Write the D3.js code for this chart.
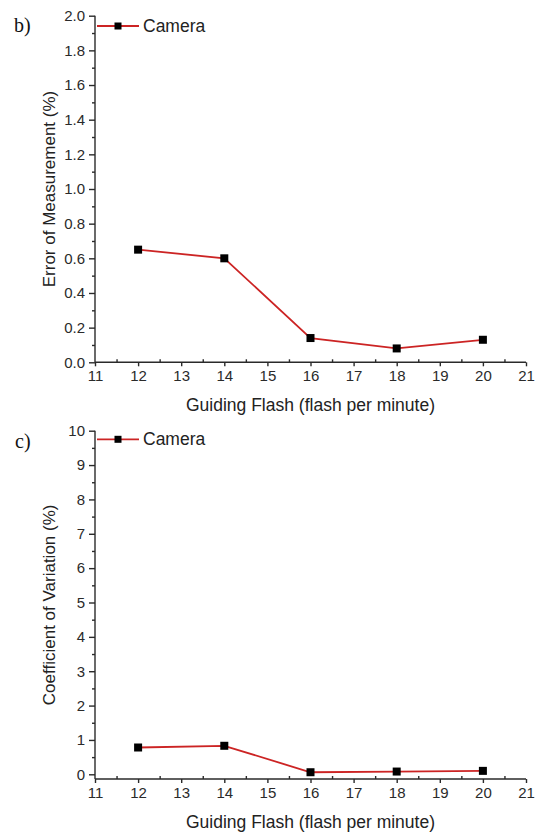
<!DOCTYPE html>
<html>
<head>
<meta charset="utf-8">
<script src="https://cdn.jsdelivr.net/npm/d3@7"></script>
<style>
  html, body { margin: 0; padding: 0; background: #fff; }
  svg { display: block; }
  .axis path, .axis line { stroke: #2a2a2a; stroke-width: 1.4; }
  .axis text { font-family: "Liberation Sans", Arial, sans-serif; font-size: 15px; fill: #2a2a2a; }
  .title { font-family: "Liberation Sans", Arial, sans-serif; fill: #222; }
  .panel { font-family: "Liberation Serif", "Times New Roman", serif; font-size: 20px; fill: #111; }
</style>
</head>
<body>
<script>
// ---- data ----
const flashRates = [12, 14, 16, 18, 20];
const errorOfMeasurement = [0.65, 0.60, 0.14, 0.08, 0.13];
const coefficientOfVariation = [0.78, 0.83, 0.06, 0.08, 0.10];
const xTicks = [11, 12, 13, 14, 15, 16, 17, 18, 19, 20, 21];
const errorTicks = [0.0, 0.2, 0.4, 0.6, 0.8, 1.0, 1.2, 1.4, 1.6, 1.8, 2.0];
const cvTicks = [0, 1, 2, 3, 4, 5, 6, 7, 8, 9, 10];
const seriesName = "Camera";
const xTitle = "Guiding Flash (flash per minute)";

const W = 539, H = 836;
const svg = d3.select("body").append("svg").attr("width", W).attr("height", H);
const lineColor = "#cc2424";

function panel(opts) {
  const g = svg.append("g");
  const x = d3.scaleLinear().domain([11, 21]).range([95, 526]);
  const y = d3.scaleLinear().domain(opts.yDomain).range([opts.yZeroPx, opts.yTopPx]);
  const axisY = opts.axisLinePx;

  // x minor ticks (inside)
  const xMinor = d3.range(11.5, 21, 1);
  g.append("g").attr("class", "axis").attr("transform", `translate(0,${axisY})`)
    .call(d3.axisBottom(x).tickValues(xMinor).tickSize(-3).tickFormat(""))
    .call(s => s.select(".domain").remove());
  // x major
  g.append("g").attr("class", "axis").attr("transform", `translate(0,${axisY})`)
    .call(d3.axisBottom(x).tickValues(xTicks).tickSizeInner(4).tickSizeOuter(0).tickPadding(4).tickFormat(d3.format("d")))
    .call(s => s.select(".domain").attr("d", `M${x(11)},0H${x(21)}`));

  // y axis line
  g.append("line").attr("x1", 95).attr("x2", 95).attr("y1", axisY).attr("y2", y(opts.yDomain[1]))
    .attr("stroke", "#2a2a2a").attr("stroke-width", 1.4);
  // y minor
  g.append("g").attr("class", "axis").attr("transform", "translate(95,0)")
    .call(d3.axisLeft(y).tickValues(opts.yMinor).tickSize(3).tickFormat(""))
    .call(s => s.select(".domain").remove());
  // y major
  g.append("g").attr("class", "axis").attr("transform", "translate(95,0)")
    .call(d3.axisLeft(y).tickValues(opts.yTicks).tickSize(6).tickPadding(4).tickFormat(opts.yFormat))
    .call(s => s.select(".domain").remove());

  // titles
  g.append("text").attr("class", "title").attr("x", 310.5).attr("y", axisY + 43)
    .attr("text-anchor", "middle").attr("dominant-baseline", "central")
    .style("font-size", "17.5px").text(xTitle);
  g.append("text").attr("class", "title")
    .attr("transform", `translate(49,${(axisY + y(opts.yDomain[1])) / 2}) rotate(-90)`)
    .attr("text-anchor", "middle").attr("dominant-baseline", "central")
    .style("font-size", "17px").text(opts.yTitle);

  // series
  const pts = flashRates.map((f, i) => [x(f), y(opts.values[i])]);
  g.append("path").attr("d", d3.line()(pts)).attr("fill", "none")
    .attr("stroke", lineColor).attr("stroke-width", 1.8);
  g.selectAll("rect.pt").data(pts).join("rect").attr("class", "pt")
    .attr("x", d => d[0] - 4).attr("y", d => d[1] - 4)
    .attr("width", 8).attr("height", 8).attr("fill", "#000");

  // legend
  const ly = opts.legendY;
  g.append("line").attr("x1", 97).attr("x2", 139).attr("y1", ly).attr("y2", ly)
    .attr("stroke", lineColor).attr("stroke-width", 1.8);
  g.append("rect").attr("x", 118 - 3.5).attr("y", ly - 3.5).attr("width", 7).attr("height", 7).attr("fill", "#000");
  g.append("text").attr("class", "title").attr("x", 143).attr("y", ly)
    .attr("dominant-baseline", "central").style("font-size", "17.5px").text(seriesName);

  // panel label
  g.append("text").attr("class", "panel").attr("x", opts.labelX).attr("y", opts.labelY).text(opts.label);
}

panel({
  yDomain: [0, 2], yZeroPx: 362.3, yTopPx: 15.7, axisLinePx: 362.3,
  yTicks: errorTicks, yMinor: d3.range(0.1, 2, 0.2),
  yFormat: d3.format(".1f"),
  yTitle: "Error of Measurement (%)",
  values: errorOfMeasurement,
  legendY: 26, label: "b)", labelX: 14, labelY: 32
});

panel({
  yDomain: [0, 10], yZeroPx: 774.3, yTopPx: 430.7, axisLinePx: 779,
  yTicks: cvTicks, yMinor: d3.range(0.5, 10, 1),
  yFormat: d3.format("d"),
  yTitle: "Coefficient of Variation (%)",
  values: coefficientOfVariation,
  legendY: 439.3, label: "c)", labelX: 15, labelY: 448
});
</script>
</body>
</html>
